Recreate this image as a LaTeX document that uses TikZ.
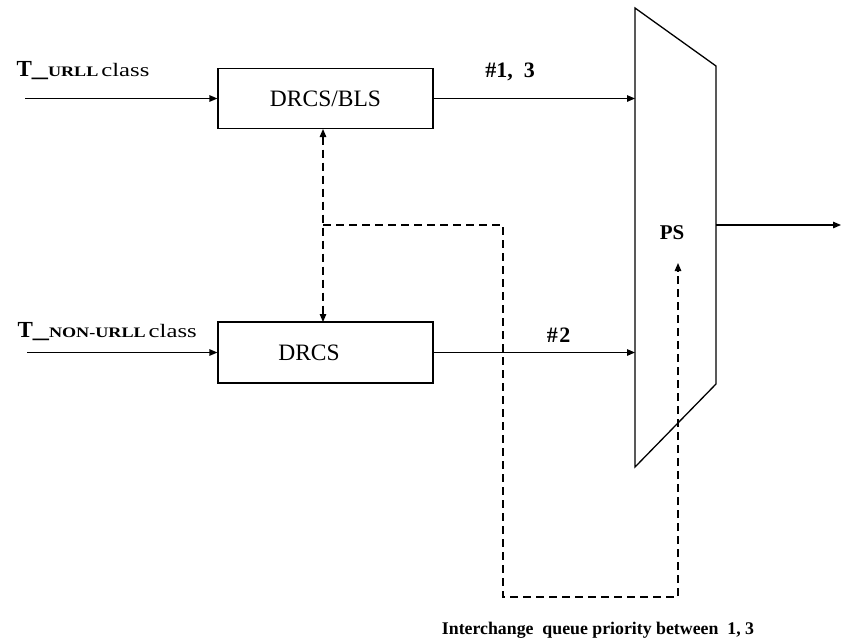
\documentclass[tikz,border=0pt]{standalone}
\usepackage{fontspec}
\setmainfont{Liberation Serif}
\usetikzlibrary{arrows.meta}
\newcommand{\fs}[1]{\fontsize{#1}{#1}\selectfont}
\begin{document}
\begin{tikzpicture}[x=1pt,y=-1pt,line width=1.2pt,
  >={Triangle[length=8pt,width=6.5pt]},
  box/.style={draw, minimum width=215pt, minimum height=60pt, inner sep=0pt},
  boxtext/.style={inner sep=0pt, font=\fs{23.5}},
  lbl/.style={inner sep=0pt, anchor=base west},
  hashlbl/.style={inner sep=0pt, font=\fs{22}\bfseries},
  dashline/.style={dash pattern=on 8pt off 5pt, line width=1.2pt}
]
\useasboundingbox (0,0) rectangle (842,641);

% boxes
\node[box] (b1) at (325.5,98.5) {};
\node[boxtext] (t1) at (b1.center) {DRCS/BLS};
\node[box, minimum height=61pt] (b2) at (325.5,352.5) {};
\node[boxtext] (t2) at (309,352.5) {DRCS};

% PS trapezoid
\coordinate (p1) at (635,8);
\coordinate (p2) at (716,66);
\coordinate (p3) at (716,384);
\coordinate (p4) at (635,467);
\draw[line width=1.3pt, line join=miter] (p1) -- (p2) -- (p3) -- (p4) -- cycle;
\node[inner sep=0pt, font=\fs{21}\bfseries] (ps) at (672,232.5) {PS};

% inputs
\coordinate (in1) at (25,98.5);
\coordinate (in2) at (27,352.5);
\draw[->] (in1) -- (b1.west);
\draw[->] (in2) -- (b2.west);
\node[lbl] (l1) at (16,76) {{\fs{23}\bfseries T}{\fs{23}\bfseries\scalebox{1.4}[1]{\_}}\scalebox{1.25}[1]{\fs{14.5}\bfseries URLL}\kern3pt\scalebox{1.3}[1]{\fs{19}class}};
\node[lbl] (l2) at (17,337) {{\fs{23}\bfseries T}{\fs{23}\bfseries\scalebox{1.4}[1]{\_}}\scalebox{1.25}[1]{\fs{14.5}\bfseries NON-URLL}\kern3pt\scalebox{1.3}[1]{\fs{19}class}};

% outputs to PS
\coordinate (e1) at (635,98.5);
\coordinate (e2) at (635,352.5);
\draw[->] (b1.east) -- (e1);
\draw[->] (b2.east) -- (e2);
\node[hashlbl] (h1) at (510,72) {\#1,\ \ 3};
\node[hashlbl] (h2) at (558.5,335) {\#\kern1.5pt2};

% PS output
\coordinate (o1) at (716,225);
\coordinate (o2) at (841,225);
\draw[->] (o1) -- (o2);

% dashed control
\coordinate (dt) at (323,129);
\coordinate (db) at (323,322);
\draw[dashline,<->] (dt) -- (db);
\coordinate (dj) at (323,225);
\coordinate (dc1) at (503,225);
\coordinate (dc2) at (503,597);
\coordinate (dc3) at (678,597);
\coordinate (dend) at (678,263);
\draw[dashline,->] (dj) -- (dc1) -- (dc2) -- (dc3) -- (dend);

\node[inner sep=0pt, anchor=base, font=\fs{17.8}\bfseries] (note) at (598,634) {Interchange\ \ queue priority between\ \ 1, 3};
\end{tikzpicture}
\end{document}
